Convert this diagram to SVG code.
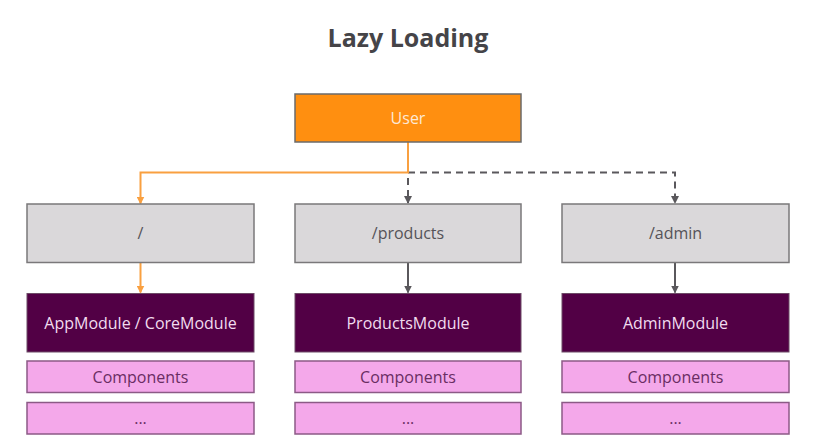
<svg xmlns="http://www.w3.org/2000/svg" width="823" height="440" viewBox="0 0 823 440">
<style>
text{font-family:"Open Sans","Noto Sans","Liberation Sans",sans-serif;text-anchor:middle;dominant-baseline:central}
.title{font-size:25px;font-weight:bold;fill:#454448}
.user rect{fill:#ff8f10;stroke:#6b6b6b;stroke-width:1.5}
.user text{fill:#fde9d6;font-size:16px}
.route rect{fill:#dad8da;stroke:#7a787a;stroke-width:1.5}
.route text{fill:#555358;font-size:16px}
.mod rect{fill:#520045;stroke:#6d4a66;stroke-width:1}
.mod text{fill:#f1dcef;font-size:16px}
.comp rect{fill:#f4a8ea;stroke:#8c5a86;stroke-width:1.5}
.comp text{fill:#6a2d63;font-size:16px}
.or{stroke:#f9a040;stroke-width:2;fill:none}
.gd{stroke:#5a585c;stroke-width:2;fill:none;stroke-dasharray:7,5}
.gs{stroke:#5a585c;stroke-width:2;fill:none}
</style>
<defs>
<marker id="ao" viewBox="0 0 8 8" refX="7" refY="4" markerWidth="4" markerHeight="4" orient="auto"><path d="M0,0L8,4L0,8z" fill="#f9a040"/></marker>
<marker id="ag" viewBox="0 0 8 8" refX="7" refY="4" markerWidth="4" markerHeight="4" orient="auto"><path d="M0,0L8,4L0,8z" fill="#5a585c"/></marker>
</defs>
<rect width="823" height="440" fill="#ffffff"/>
<text class="title" x="408" y="37">Lazy Loading</text>
<g id="connectors">
<path class="gd" d="M408,142V203" marker-end="url(#ag)"/>
<path class="gd" d="M408,172.5H675V203" marker-end="url(#ag)"/>
<path class="or" d="M408,142V172.5H140.5V203.5" marker-end="url(#ao)"/>
<path class="or" d="M140.5,262.5V292.5" marker-end="url(#ao)"/>
<path class="gs" d="M408,262.5V292.5" marker-end="url(#ag)"/>
<path class="gs" d="M675,262.5V292.5" marker-end="url(#ag)"/>
</g>
<g id="user" class="user"><rect x="295" y="94" width="226" height="48"/><text x="408" y="118">User</text></g>
<g id="route-root" class="route"><rect x="27" y="204" width="227" height="58.5"/><text x="140.5" y="233">/</text></g>
<g id="route-products" class="route"><rect x="295" y="204" width="226" height="58.5"/><text x="408" y="233">/products</text></g>
<g id="route-admin" class="route"><rect x="562" y="204" width="227" height="58.5"/><text x="675.5" y="233">/admin</text></g>
<g id="mod-app" class="mod"><rect x="27" y="293.5" width="227" height="58.5"/><text x="140.5" y="323">AppModule / CoreModule</text></g>
<g id="mod-products" class="mod"><rect x="295" y="293.5" width="226" height="58.5"/><text x="408" y="323">ProductsModule</text></g>
<g id="mod-admin" class="mod"><rect x="562" y="293.5" width="227" height="58.5"/><text x="675.5" y="323">AdminModule</text></g>
<g id="comp-app" class="comp"><rect x="27" y="361" width="227" height="31.5"/><text x="140.5" y="377">Components</text></g>
<g id="comp-products" class="comp"><rect x="295" y="361" width="226" height="31.5"/><text x="408" y="377">Components</text></g>
<g id="comp-admin" class="comp"><rect x="562" y="361" width="227" height="31.5"/><text x="675.5" y="377">Components</text></g>
<g id="more-app" class="comp"><rect x="27" y="402.5" width="227" height="31.5"/><text x="140.5" y="418">...</text></g>
<g id="more-products" class="comp"><rect x="295" y="402.5" width="226" height="31.5"/><text x="408" y="418">...</text></g>
<g id="more-admin" class="comp"><rect x="562" y="402.5" width="227" height="31.5"/><text x="675.5" y="418">...</text></g>
</svg>
